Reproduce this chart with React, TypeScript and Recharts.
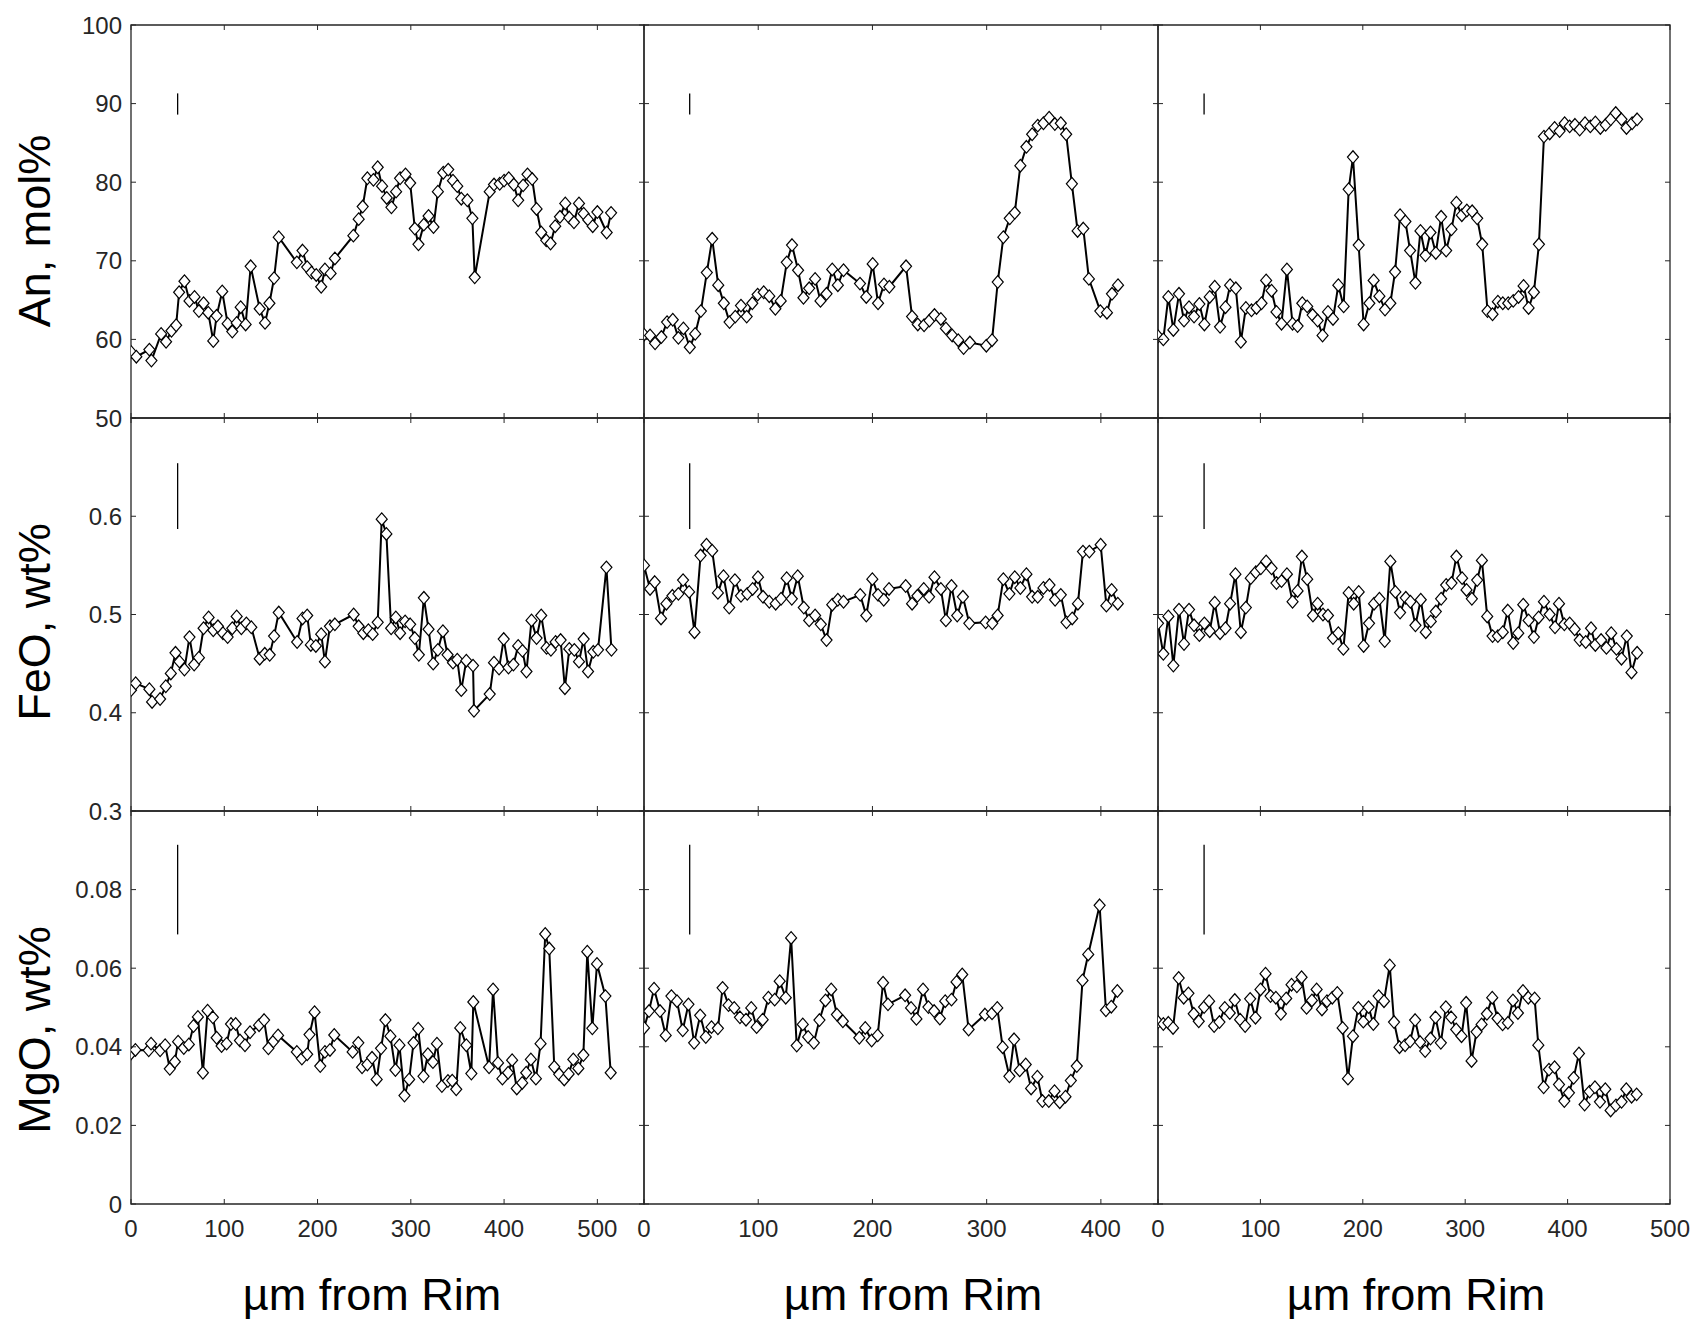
import { LineChart, Line, XAxis, YAxis, ReferenceLine, ReferenceArea } from "recharts";

type Pt = [number, number];

// An, mol% — three profiles (x = µm from rim)
const anA: Pt[] = [
	[0, 58.4], [5.7, 57.8], [19.7, 58.7], [21.9, 57.3], [32.3, 60.7], [37.6, 59.7], [43.4, 61.1], [48.4, 61.8],
	[51.6, 66.0], [57.3, 67.4], [62.7, 64.9], [68.1, 65.4], [72.8, 63.6], [77.8, 64.6], [82.8, 63.4], [88.2, 59.8],
	[91.8, 63.0], [97.8, 66.1], [103.6, 62.0], [108.6, 61.0], [113.3, 62.1], [117.6, 64.1], [122.9, 61.9], [128.3, 69.3],
	[138.0, 63.9], [143.7, 62.1], [148.4, 64.6], [153.4, 67.8], [158.4, 73.0], [177.8, 69.8], [183.9, 71.3], [188.9, 69.2],
	[193.5, 68.5], [198.6, 68.2], [203.9, 66.7], [207.9, 68.9], [214.0, 68.4], [218.6, 70.3], [238.4, 73.2], [244.1, 75.3],
	[248.4, 76.9], [253.4, 80.5], [259.9, 80.3], [264.5, 81.9], [269.2, 79.5], [274.2, 78.0], [279.2, 76.8], [284.2, 78.8],
	[288.5, 80.5], [294.3, 81.0], [299.3, 79.9], [304.3, 74.1], [308.2, 72.1], [313.9, 74.6], [319.0, 75.7], [324.3, 74.3],
	[329.0, 78.8], [334.8, 81.2], [340.1, 81.6], [345.2, 80.2], [349.8, 79.5], [354.1, 77.9], [360.6, 77.7], [366.0, 75.4],
	[368.5, 67.9], [384.6, 78.8], [389.2, 79.7], [395.3, 79.8], [400.0, 80.2], [405.0, 80.5], [410.4, 79.7], [415.1, 77.7],
	[420.4, 79.6], [425.1, 81.0], [430.1, 80.4], [434.8, 76.6], [439.8, 73.6], [445.2, 72.6], [449.8, 72.2], [454.8, 74.4],
	[459.9, 75.6], [465.6, 77.3], [469.9, 75.5], [474.9, 74.9], [480.3, 77.3], [485.3, 76.0], [490.3, 75.2], [495.0, 74.4],
	[500.0, 76.2], [510.0, 73.6], [514.7, 76.1],
];
const anB: Pt[] = [
	[0, 60.6], [5.3, 60.5], [9.7, 59.5], [15.2, 60.3], [20.2, 62.2], [25.2, 62.5], [30.1, 60.2], [34.5, 61.4],
	[40.1, 59.0], [44.8, 60.7], [49.8, 63.6], [55.0, 68.5], [59.7, 72.8], [65.0, 66.9], [69.9, 64.6], [74.9, 62.2],
	[79.9, 62.9], [84.9, 64.3], [89.9, 62.9], [94.8, 64.6], [99.5, 65.7], [104.8, 66.0], [109.7, 65.5], [115.0, 63.9],
	[119.7, 64.9], [125.0, 69.8], [129.6, 72.0], [134.9, 68.8], [139.6, 65.3], [144.6, 66.5], [149.8, 67.7], [154.5, 64.9],
	[159.8, 65.8], [164.8, 68.9], [169.7, 66.9], [174.7, 68.8], [189.1, 67.1], [194.6, 65.4], [200.2, 69.6], [204.9, 64.6],
	[210.1, 67.0], [214.8, 66.7], [229.4, 69.3], [234.7, 62.9], [239.7, 61.9], [245.2, 61.8], [249.9, 62.4], [254.3, 63.1],
	[259.9, 62.6], [264.3, 61.4], [269.8, 60.5], [275.1, 59.9], [279.8, 58.9], [285.3, 59.6], [299.7, 59.2], [304.7, 59.9],
	[309.7, 67.3], [314.6, 73.0], [320.2, 75.4], [324.6, 76.1], [329.5, 82.1], [334.8, 84.5], [339.8, 86.1], [344.7, 87.2],
	[349.7, 87.5], [354.7, 88.2], [359.7, 87.4], [364.9, 87.5], [369.6, 86.1], [374.6, 79.8], [379.6, 73.8], [384.6, 74.1],
	[389.5, 67.7], [399.5, 63.6], [405.3, 63.4], [409.7, 65.8], [415.0, 66.9],
];
const anC: Pt[] = [
	[0, 60.4], [5.2, 60.0], [10.1, 65.4], [15.0, 61.2], [20.5, 65.8], [25.4, 62.4], [30.3, 64.1], [35.2, 62.9],
	[40.4, 64.5], [45.3, 61.9], [50.5, 65.4], [55.4, 66.7], [60.6, 61.6], [65.9, 64.1], [70.4, 66.9], [76.0, 66.5],
	[80.9, 59.7], [85.8, 64.0], [91.3, 63.7], [96.2, 64.0], [101.1, 64.6], [105.6, 67.5], [110.9, 66.2], [115.7, 63.5],
	[120.6, 62.0], [125.9, 68.9], [131.4, 62.0], [136.3, 61.7], [140.9, 64.6], [145.7, 64.2], [151.0, 63.1], [155.9, 62.4],
	[160.7, 60.5], [166.0, 63.5], [170.9, 62.6], [176.1, 66.9], [181.3, 64.2], [186.2, 79.1], [190.4, 83.2], [196.0, 72.0],
	[200.8, 61.9], [206.4, 64.6], [210.6, 67.5], [216.2, 65.5], [221.7, 63.8], [226.9, 64.6], [231.5, 68.6], [236.4, 75.8],
	[241.6, 75.0], [246.2, 71.3], [251.4, 67.2], [256.3, 73.8], [261.2, 70.7], [266.1, 73.6], [271.3, 71.0], [276.5, 75.6],
	[281.4, 71.3], [286.6, 74.0], [291.4, 77.4], [296.7, 75.8], [301.6, 76.4], [306.8, 76.3], [311.7, 75.4], [316.6, 72.1],
	[321.8, 63.6], [326.7, 63.2], [331.9, 64.8], [336.7, 64.6], [342.0, 64.6], [346.9, 64.9], [352.1, 65.4], [357.0, 66.8],
	[361.9, 64.0], [367.1, 66.0], [372.0, 72.1], [376.9, 85.8], [382.5, 86.2], [387.3, 86.9], [392.2, 86.5], [397.1, 87.5],
	[402.0, 87.1], [407.2, 87.3], [411.8, 86.7], [417.0, 87.5], [422.2, 87.1], [427.1, 87.6], [432.0, 86.9], [437.2, 87.3],
	[442.1, 88.0], [447.0, 88.8], [452.6, 88.0], [457.5, 86.9], [463.0, 87.5], [467.9, 88.0],
];

// FeO, wt%
const feoA: Pt[] = [
	[0, 0.423], [5.0, 0.43], [19.7, 0.424], [22.6, 0.411], [31.2, 0.414], [37.3, 0.427], [42.7, 0.44], [47.7, 0.461],
	[52.0, 0.452], [57.3, 0.444], [62.7, 0.477], [67.7, 0.449], [72.8, 0.456], [77.8, 0.486], [83.2, 0.497], [88.2, 0.484],
	[93.2, 0.488], [98.6, 0.481], [103.6, 0.477], [108.6, 0.486], [113.3, 0.498], [118.3, 0.486], [123.7, 0.491], [129.0, 0.487],
	[138.0, 0.455], [143.4, 0.46], [148.7, 0.459], [153.4, 0.478], [158.4, 0.502], [178.1, 0.472], [183.9, 0.496], [188.9, 0.499],
	[192.8, 0.469], [198.2, 0.468], [203.9, 0.48], [207.9, 0.452], [213.3, 0.488], [218.6, 0.49], [238.7, 0.5], [244.1, 0.488],
	[249.1, 0.481], [254.5, 0.484], [259.1, 0.48], [264.5, 0.492], [268.8, 0.597], [273.8, 0.582], [278.9, 0.486], [283.9, 0.497],
	[288.5, 0.481], [293.9, 0.493], [299.3, 0.49], [304.3, 0.476], [308.6, 0.459], [314.0, 0.517], [319.0, 0.485], [324.0, 0.45],
	[329.0, 0.464], [334.4, 0.483], [339.4, 0.459], [345.2, 0.451], [349.8, 0.454], [354.1, 0.423], [359.5, 0.453], [366.7, 0.448],
	[367.7, 0.402], [384.6, 0.419], [389.2, 0.451], [394.6, 0.445], [399.6, 0.475], [404.7, 0.446], [410.0, 0.449], [415.1, 0.468],
	[419.7, 0.463], [424.0, 0.442], [429.4, 0.494], [434.8, 0.476], [439.8, 0.499], [445.5, 0.466], [450.2, 0.464], [455.2, 0.472],
	[460.6, 0.474], [465.2, 0.425], [469.9, 0.465], [475.3, 0.464], [480.3, 0.452], [485.3, 0.475], [490.0, 0.442], [495.7, 0.462],
	[500.7, 0.464], [509.7, 0.548], [515.1, 0.464],
];
const feoB: Pt[] = [
	[0, 0.55], [5.3, 0.526], [9.4, 0.533], [14.9, 0.496], [19.6, 0.511], [24.9, 0.519], [30.1, 0.521], [34.2, 0.535],
	[39.5, 0.523], [44.2, 0.482], [49.5, 0.56], [54.7, 0.571], [59.7, 0.565], [64.7, 0.522], [69.6, 0.539], [74.6, 0.507],
	[79.6, 0.535], [84.9, 0.519], [90.4, 0.521], [95.1, 0.526], [99.8, 0.538], [104.2, 0.518], [109.7, 0.513], [115.3, 0.511],
	[120.0, 0.516], [124.9, 0.537], [129.4, 0.516], [134.6, 0.539], [139.9, 0.507], [144.6, 0.494], [149.8, 0.499], [154.8, 0.49],
	[159.8, 0.474], [164.8, 0.51], [169.7, 0.515], [174.7, 0.513], [189.3, 0.52], [194.6, 0.499], [199.9, 0.536], [204.9, 0.52],
	[209.9, 0.515], [214.5, 0.526], [229.1, 0.529], [234.7, 0.511], [239.4, 0.519], [244.9, 0.526], [249.6, 0.518], [254.3, 0.538],
	[259.9, 0.526], [264.3, 0.494], [269.2, 0.529], [274.2, 0.499], [279.2, 0.518], [284.8, 0.491], [299.1, 0.492], [304.9, 0.491],
	[309.6, 0.499], [314.6, 0.536], [319.9, 0.521], [324.6, 0.538], [329.5, 0.527], [334.8, 0.541], [339.8, 0.518], [344.7, 0.518],
	[349.7, 0.527], [355.0, 0.53], [359.9, 0.515], [364.9, 0.52], [369.9, 0.492], [374.9, 0.496], [379.9, 0.511], [384.3, 0.564],
	[389.9, 0.564], [399.8, 0.571], [404.8, 0.509], [409.4, 0.525], [414.8, 0.511],
];
const feoC: Pt[] = [
	[0, 0.491], [5.2, 0.46], [10.1, 0.498], [15.0, 0.448], [20.5, 0.505], [25.4, 0.47], [30.3, 0.505], [35.2, 0.489],
	[40.4, 0.479], [45.3, 0.491], [50.5, 0.483], [55.4, 0.512], [60.6, 0.481], [65.9, 0.486], [70.4, 0.511], [75.6, 0.541],
	[80.9, 0.482], [85.8, 0.507], [90.6, 0.537], [95.5, 0.543], [100.4, 0.547], [105.6, 0.554], [110.9, 0.547], [115.7, 0.532],
	[120.6, 0.534], [125.9, 0.541], [131.4, 0.513], [136.3, 0.524], [140.5, 0.559], [145.7, 0.536], [151.3, 0.499], [155.9, 0.511],
	[161.1, 0.5], [166.0, 0.499], [170.9, 0.476], [176.1, 0.481], [181.0, 0.465], [186.2, 0.522], [191.1, 0.511], [196.0, 0.523],
	[200.8, 0.468], [206.1, 0.491], [211.0, 0.511], [216.2, 0.516], [221.4, 0.473], [226.9, 0.554], [231.8, 0.523], [236.4, 0.502],
	[242.0, 0.517], [246.5, 0.513], [251.4, 0.489], [256.6, 0.515], [261.5, 0.482], [266.4, 0.493], [271.3, 0.503], [276.5, 0.516],
	[281.4, 0.53], [286.6, 0.532], [291.4, 0.559], [297.0, 0.537], [301.3, 0.525], [306.5, 0.516], [311.7, 0.535], [316.3, 0.555],
	[321.5, 0.498], [326.7, 0.478], [331.9, 0.478], [336.7, 0.482], [341.6, 0.504], [346.9, 0.471], [351.8, 0.481], [356.7, 0.51],
	[361.9, 0.494], [367.1, 0.477], [371.7, 0.497], [376.9, 0.513], [382.5, 0.5], [387.7, 0.487], [391.6, 0.511], [396.8, 0.49],
	[402.0, 0.491], [406.9, 0.485], [411.8, 0.474], [417.7, 0.472], [422.9, 0.486], [427.1, 0.469], [432.7, 0.474], [437.9, 0.466],
	[442.6, 0.481], [447.7, 0.465], [452.6, 0.455], [457.8, 0.478], [462.4, 0.441], [467.9, 0.461],
];

// MgO, wt%
const mgoA: Pt[] = [
	[0, 0.0383], [4.7, 0.0392], [19.0, 0.0391], [21.5, 0.0408], [31.2, 0.0391], [36.6, 0.0404], [41.6, 0.0344], [47.0, 0.0362],
	[50.5, 0.0413], [56.6, 0.0397], [62.0, 0.0406], [67.0, 0.0453], [71.7, 0.0476], [77.1, 0.0334], [82.1, 0.0492], [87.8, 0.0475],
	[91.8, 0.0423], [97.1, 0.0402], [102.5, 0.0408], [107.2, 0.0458], [112.2, 0.0458], [116.8, 0.0416], [122.2, 0.0404], [127.6, 0.0437],
	[137.3, 0.0455], [142.7, 0.0468], [147.3, 0.0396], [152.7, 0.0414], [157.7, 0.0429], [177.8, 0.0387], [183.2, 0.037], [188.9, 0.0381],
	[191.4, 0.0431], [196.8, 0.0488], [202.9, 0.0351], [207.9, 0.0387], [213.3, 0.0392], [217.9, 0.043], [237.6, 0.0387], [243.7, 0.041],
	[247.7, 0.0348], [253.4, 0.0355], [258.4, 0.0372], [263.4, 0.0317], [268.1, 0.0396], [272.8, 0.0468], [278.1, 0.0427], [283.5, 0.0341],
	[287.8, 0.0404], [293.2, 0.0276], [298.2, 0.0317], [302.9, 0.041], [307.9, 0.0446], [313.6, 0.0325], [318.3, 0.0381], [323.7, 0.0361],
	[328.0, 0.0408], [333.3, 0.03], [339.8, 0.0313], [344.4, 0.0314], [348.7, 0.0292], [353.0, 0.0448], [359.5, 0.0404], [364.9, 0.0332],
	[367.0, 0.0514], [383.9, 0.0348], [388.2, 0.0546], [393.5, 0.0359], [398.2, 0.0319], [404.3, 0.0334], [408.6, 0.0366], [413.6, 0.0294],
	[419.4, 0.0308], [423.7, 0.0334], [428.7, 0.0368], [434.1, 0.0319], [439.1, 0.0408], [444.1, 0.0687], [448.4, 0.065], [453.8, 0.0349],
	[459.1, 0.033], [464.5, 0.0317], [469.2, 0.0331], [474.2, 0.0368], [479.6, 0.0345], [485.0, 0.0379], [489.2, 0.0642], [494.6, 0.0447],
	[499.6, 0.0611], [508.6, 0.0529], [514.3, 0.0334],
];
const mgoB: Pt[] = [
	[0, 0.0448], [4.4, 0.0491], [8.8, 0.0548], [14.0, 0.0491], [19.0, 0.0429], [24.0, 0.0529], [28.9, 0.0516], [33.9, 0.0442],
	[38.9, 0.0508], [43.9, 0.041], [49.2, 0.048], [54.1, 0.0425], [59.1, 0.045], [64.7, 0.0447], [68.8, 0.055], [74.0, 0.0506],
	[79.0, 0.0499], [84.0, 0.0475], [89.3, 0.0469], [93.9, 0.0499], [98.6, 0.045], [103.9, 0.0469], [108.9, 0.0525], [114.4, 0.052],
	[118.8, 0.0567], [124.1, 0.0525], [128.8, 0.0677], [133.7, 0.0403], [139.0, 0.0457], [143.7, 0.0425], [148.7, 0.041], [153.6, 0.0468],
	[158.9, 0.0518], [163.9, 0.0546], [168.9, 0.0482], [174.1, 0.0465], [188.5, 0.0423], [193.7, 0.0448], [199.3, 0.0416], [204.6, 0.0429],
	[209.3, 0.0563], [213.6, 0.0508], [228.6, 0.0531], [233.8, 0.0499], [238.5, 0.0471], [244.3, 0.0546], [249.0, 0.0501], [254.0, 0.0491],
	[259.0, 0.0472], [263.7, 0.0516], [269.2, 0.052], [273.6, 0.0565], [278.6, 0.0584], [284.2, 0.0444], [298.5, 0.0482], [304.7, 0.0485],
	[309.3, 0.0499], [314.0, 0.0399], [319.9, 0.0325], [324.0, 0.0419], [328.9, 0.034], [334.2, 0.0355], [338.9, 0.0294], [344.4, 0.0324],
	[348.8, 0.0262], [354.4, 0.0262], [359.4, 0.0287], [364.0, 0.0259], [369.0, 0.0273], [373.7, 0.0314], [378.9, 0.0351], [383.9, 0.0569],
	[388.9, 0.0635], [398.9, 0.076], [404.4, 0.0493], [409.1, 0.0502], [414.4, 0.0542],
];
const mgoC: Pt[] = [
	[0, 0.0463], [5.2, 0.0458], [10.1, 0.0461], [14.7, 0.0448], [20.2, 0.0575], [25.1, 0.0525], [29.7, 0.0536], [34.9, 0.0484],
	[39.8, 0.0465], [45.0, 0.0501], [49.9, 0.0516], [54.8, 0.0453], [60.0, 0.0463], [65.2, 0.0499], [70.1, 0.0486], [75.0, 0.0519],
	[80.2, 0.0469], [85.1, 0.0453], [90.0, 0.0522], [95.2, 0.0474], [100.1, 0.0546], [105.0, 0.0586], [109.9, 0.0529], [115.1, 0.0525],
	[120.0, 0.0484], [125.2, 0.0523], [130.4, 0.0558], [135.6, 0.0554], [140.2, 0.0577], [145.1, 0.0499], [150.3, 0.0518], [154.9, 0.0546],
	[160.1, 0.0495], [165.0, 0.0516], [170.2, 0.0525], [175.1, 0.0537], [180.3, 0.0448], [185.5, 0.0319], [190.4, 0.0427], [195.6, 0.0499],
	[200.5, 0.0464], [205.7, 0.0501], [210.3, 0.0458], [215.5, 0.0529], [220.7, 0.0516], [226.3, 0.0607], [230.5, 0.0463], [235.8, 0.0399],
	[241.3, 0.0404], [246.2, 0.0414], [251.1, 0.0468], [256.0, 0.0412], [260.9, 0.0389], [266.1, 0.0421], [271.0, 0.0475], [276.2, 0.041],
	[281.1, 0.0501], [286.3, 0.0475], [291.2, 0.0444], [296.4, 0.0427], [300.9, 0.0512], [306.2, 0.0364], [311.1, 0.0438], [316.0, 0.0457],
	[321.2, 0.0484], [326.4, 0.0525], [331.6, 0.0472], [336.5, 0.0457], [341.7, 0.0461], [346.6, 0.0518], [351.5, 0.0486], [356.4, 0.0542],
	[361.6, 0.0525], [367.8, 0.0523], [371.4, 0.0404], [376.6, 0.0297], [381.8, 0.0342], [387.3, 0.0348], [391.6, 0.0304], [396.8, 0.0262],
	[401.3, 0.0283], [405.9, 0.0321], [411.1, 0.0383], [416.6, 0.0253], [421.5, 0.0286], [426.7, 0.0297], [431.6, 0.026], [436.8, 0.0292],
	[442.0, 0.0238], [447.2, 0.0251], [452.7, 0.026], [457.3, 0.0292], [462.5, 0.0273], [467.4, 0.0279],
];

// axes
const xMax = [550, 450, 500];
const xTicks = [
	[0, 100, 200, 300, 400, 500],
	[0, 100, 200, 300, 400],
	[0, 100, 200, 300, 400, 500],
];
const yDomains: [number, number][] = [[50, 100], [0.3, 0.7], [0, 0.1]];
const yTicks = [
	[50, 60, 70, 80, 90, 100],
	[0.3, 0.4, 0.5, 0.6],
	[0, 0.02, 0.04, 0.06, 0.08],
];
const yTitles = ["An, mol%", "FeO, wt%", "MgO, wt%"];
const xTitle = "µm from Rim";

// short vertical bar drawn in each panel
const barX = [50, 40, 45];
const barY: [number, number][] = [[88.6, 91.3], [0.587, 0.654], [0.0686, 0.0914]];

const series = [
	[anA, anB, anC],
	[feoA, feoB, feoC],
	[mgoA, mgoB, mgoC],
];

const colLeft = [131, 644, 1158];
const colW = [513, 514, 512];
const rowTop = [25, 418, 811];
const rowH = 393;

const FONT = "'Liberation Sans', Arial, Helvetica, sans-serif";
const INK = "#262626";
const TICK = 5;

function fmtY(row: number, v: number) {
	if (row === 0) return String(v);
	if (v === 0) return "0";
	return row === 1 ? v.toFixed(1) : v.toFixed(2);
}

function Diamond(props: any) {
	const { cx, cy, index } = props;
	if (cx == null || cy == null) return <g key={`e${index}`} />;
	const w = 5.5;
	const h = 6.3;
	return (
		<polygon
			key={`d${index}`}
			points={`${cx},${cy - h} ${cx + w},${cy} ${cx},${cy + h} ${cx - w},${cy}`}
			fill="#fff"
			stroke="#000"
			strokeWidth={1.2}
		/>
	);
}

function Panel({ row, col }: { row: number; col: number }) {
	const data = series[row][col].map(([x, y]) => ({ x, y }));
	const W = colW[col];
	const H = rowH;
	// the axes themselves take 1px, so the margins are one short of the gap
	const m = { top: 20, right: 20, bottom: 49, left: 69 };
	const showX = row === 2;
	const showY = col === 0;
	const [y0, y1] = yDomains[row];

	const xTick = (p: any) => {
		const { x, y, payload } = p;
		return (
			<g key={`xt${payload.value}`}>
				<line x1={x} y1={y} x2={x} y2={y - TICK} stroke={INK} strokeWidth={1} />
				<line x1={x} y1={y - H} x2={x} y2={y - H + TICK} stroke={INK} strokeWidth={1} />
				{showX && (
					<text x={x} y={y + 33} textAnchor="middle" fontSize={24} fontFamily={FONT} fill={INK}>
						{payload.value}
					</text>
				)}
			</g>
		);
	};

	const yTick = (p: any) => {
		const { x, y, payload } = p;
		return (
			<g key={`yt${payload.value}`}>
				<line x1={x} y1={y} x2={x + TICK} y2={y} stroke={INK} strokeWidth={1} />
				<line x1={x + W} y1={y} x2={x + W - TICK} y2={y} stroke={INK} strokeWidth={1} />
				{showY && (
					<text x={x - 9} y={y + 8.5} textAnchor="end" fontSize={24} fontFamily={FONT} fill={INK}>
						{fmtY(row, payload.value)}
					</text>
				)}
			</g>
		);
	};

	return (
		<div style={{ position: "absolute", left: colLeft[col] - m.left - 1, top: rowTop[row] - m.top }}>
			<LineChart width={W + m.left + 1 + m.right} height={H + m.top + m.bottom + 1} data={data} margin={m}>
				<XAxis
					type="number"
					dataKey="x"
					domain={[0, xMax[col]]}
					ticks={xTicks[col]}
					interval={0}
					height={1}
					tickSize={0}
					tickMargin={0}
					tickLine={false}
					axisLine={false}
					allowDataOverflow
					tick={xTick}
				/>
				<YAxis
					type="number"
					domain={yDomains[row]}
					ticks={yTicks[row]}
					interval={0}
					width={1}
					tickSize={0}
					tickMargin={0}
					tickLine={false}
					axisLine={false}
					allowDataOverflow
					tick={yTick}
				/>
				<ReferenceArea x1={0} x2={xMax[col]} y1={y0} y2={y1} fill="none" fillOpacity={0} stroke={INK} strokeWidth={1.3} />
				<ReferenceLine
					segment={[
						{ x: barX[col], y: barY[row][0] },
						{ x: barX[col], y: barY[row][1] },
					]}
					stroke="#000"
					strokeWidth={1.3}
				/>
				<Line
					type="linear"
					dataKey="y"
					stroke="#000"
					strokeWidth={2}
					dot={Diamond}
					activeDot={false}
					isAnimationActive={false}
				/>
			</LineChart>
		</div>
	);
}

export default function App() {
	const titleY = [231, 622, 1030];
	const titleX = [372, 913, 1416];
	return (
		<div style={{ position: "absolute", left: 0, top: 0, width: 1696, height: 1325, background: "#fff", overflow: "hidden" }}>
			{[0, 1, 2].map((r) => [0, 1, 2].map((c) => <Panel key={`${r}-${c}`} row={r} col={c} />))}
			<svg width={1696} height={1325} style={{ position: "absolute", left: 0, top: 0, pointerEvents: "none" }}>
				{yTitles.map((t, i) => (
					<text
						key={t}
						transform={`translate(50,${titleY[i]}) rotate(-90)`}
						textAnchor="middle"
						fontSize={45}
						fontFamily={FONT}
						fill="#000"
					>
						{t}
					</text>
				))}
				{titleX.map((x, i) => (
					<text key={i} x={x} y={1310} textAnchor="middle" fontSize={45} fontFamily={FONT} fill="#000">
						{xTitle}
					</text>
				))}
			</svg>
		</div>
	);
}
